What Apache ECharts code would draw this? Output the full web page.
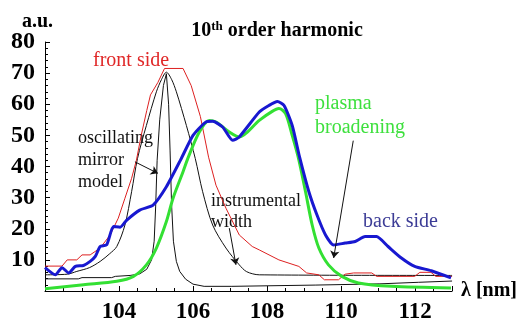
<!DOCTYPE html>
<html>
<head>
<meta charset="utf-8">
<script src="https://cdn.jsdelivr.net/npm/echarts@6/dist/echarts.min.js"></script>
<style>
html, body { margin: 0; padding: 0; background: #fff; }
#chart { width: 520px; height: 324px; }
</style>
</head>
<body>
<div id="chart"></div>
<script>
// [lambda nm, intensity a.u.]
var frontSide = [[102,8],[102.46,8],[102.6,10],[102.86,10],[103.0,11.6],[103.22,11.6],[103.49,13.8],[103.76,18],
    [103.98,23.4],[104.16,29.8],[104.34,36.2],[104.47,42],[104.6,50],[104.75,58],[104.85,63],[105.05,67],[105.23,71.5],
    [105.73,71.5],[105.95,66],[106.2,56],[106.42,43],[106.62,34],[106.89,26.6],[107.25,18],[107.6,14.3],[107.79,13.2],
    [108.32,10],[108.86,7.9],[109.07,5.8],[109.4,5.2],[109.55,3.6],[109.93,3.6],[110.11,5.4],[110.34,5.8],[110.83,5.8],
    [110.96,4.7],[111.99,4.7],[112.13,6.0],[112.43,6.0],[112.56,4.7],[113,4.7]];
var backSide = [[102,7.5],[102.28,5.2],[102.46,7.5],[102.64,5.8],[102.82,7.9],[103.04,8.2],[103.22,9.5],[103.36,11.1],
    [103.49,14.3],[103.67,14.9],[103.85,20.7],[104.03,20.5],[104.21,22.8],[104.56,26],[104.92,27.6],[105.28,33.5],
    [105.68,42.5],[106.0,50],[106.35,54.3],[106.53,54.5],[106.8,52.7],[107.07,48.4],[107.25,49.5],[107.79,57.5],
    [108.05,59.6],[108.28,60.9],[108.46,59.6],[108.68,53.2],[108.88,43],[109.13,31.9],[109.35,24.4],[109.58,18],
    [109.8,14.8],[110.11,15.4],[110.38,15.9],[110.65,17.5],[110.96,17.5],[111.27,14.3],[111.63,10.6],[111.99,7.9],
    [112.44,6.5],[112.97,4.2]];
var plasma = [[102,0.7],[103.04,2.0],[103.94,3.1],[104.39,4.7],[104.74,8.4],[105.01,13.8],[105.28,22.3],[105.46,29.8],
    [105.73,38.3],[105.86,42.6],[106.17,51.1],[106.44,54.8],[106.62,54.3],[106.98,51.1],[107.25,49.5],[107.79,54.8],
    [108.14,57.7],[108.32,58.6],[108.5,57],[108.68,50],[108.85,42.6],[109.04,31.9],[109.22,21.2],[109.4,13.8],
    [109.66,8.4],[110.02,4.7],[110.47,2.6],[111.36,1.5],[112.97,1.0]];
var mirror = [[102,5.2],[102.6,5.4],[102.86,6.3],[103.2,7.5],[103.49,9.5],[103.75,12],[103.94,14.3],[104.16,21.2],
    [104.34,31.9],[104.5,42.6],[104.74,53.2],[105.01,64],[105.15,68],[105.28,70.3],[105.42,68],[105.55,64],
    [105.82,53.2],[106.06,42.6],[106.26,31.9],[106.53,21.2],[106.89,13.8],[107.25,8.4],[107.45,6.2],[107.79,5.2],[113,5.0]];
var instrumental = [[102,3.9],[102.9,3.9],[103.0,4.3],[103.8,4.3],[103.9,4.7],[104.3,5],[104.56,5.5],[104.75,7],
    [104.88,10],[104.95,16],[104.99,27],[105.03,42],[105.1,55],[105.2,66],[105.28,69.8],[105.34,60],[105.38,45],
    [105.42,28],[105.47,16],[105.55,9.5],[105.64,6.3],[105.8,3.8],[106,2.2],[106.3,1.5],[107.05,1.5],[107.1,1.9],
    [109.3,1.9],[109.35,2.3],[111.05,2.3],[111.1,2.8],[112.1,2.8],[112.15,3.2],[113,3.2]];
// annotation arrows: [from, to]
var arrows = [
    [[104.43,41.5],[105.05,37.8]],
    [[106.98,20.2],[107.16,8.4]],
    [[110.33,48.3],[109.8,10.6]]
];

var serif = 'Liberation Serif';
var myChart = echarts.init(document.getElementById('chart'));

var option = {
    animation: false,
    title: {
        text: '{n|10}{s|th}{n| order harmonic}',
        left: 272,
        top: 15,
        textAlign: 'center',
        textStyle: {
            rich: {
                n: {fontFamily: serif, fontWeight: 'bold', fontSize: 20, color: '#000'},
                s: {fontFamily: serif, fontWeight: 'bold', fontSize: 13, color: '#000', padding: [0, 0, 8, 0]}
            }
        }
    },
    grid: {left: 45, right: 67, top: 42, bottom: 31},
    xAxis: {
        type: 'value',
        min: 102,
        max: 113,
        interval: 2,
        name: 'λ [nm]',
        nameLocation: 'end',
        nameGap: 9,
        nameTextStyle: {fontFamily: serif, fontWeight: 'bold', fontSize: 20, color: '#000'},
        axisLine: {lineStyle: {color: '#000', width: 1}},
        axisTick: {inside: true, length: 5, lineStyle: {color: '#000'}},
        minorTick: {show: true, splitNumber: 4, length: 3, lineStyle: {color: '#000'}},
        axisLabel: {
            showMinLabel: false,
            showMaxLabel: false,
            margin: 10,
            fontFamily: serif, fontWeight: 'bold', fontSize: 23, color: '#000'
        },
        splitLine: {show: false}
    },
    yAxis: {
        type: 'value',
        min: 0,
        max: 80,
        interval: 10,
        axisLine: {show: true, lineStyle: {color: '#000', width: 1}},
        axisTick: {show: true, inside: true, length: 5, lineStyle: {color: '#000'}},
        minorTick: {show: true, splitNumber: 5, length: 3, lineStyle: {color: '#000'}},
        axisLabel: {
            showMinLabel: false,
            margin: 10,
            fontFamily: serif, fontWeight: 'bold', fontSize: 24, color: '#000'
        },
        splitLine: {show: false}
    },
    graphic: [
        {type: 'text', left: 22, top: 12, style: {text: 'a.u.', fontFamily: serif, fontWeight: 'bold', fontSize: 20, fill: '#000'}},
        {type: 'text', left: 93, top: 51, style: {text: 'front side', fontFamily: serif, fontSize: 20, fill: '#e02828'}},
        {type: 'text', left: 78, top: 127, style: {text: 'oscillating\nmirror\nmodel', fontFamily: serif, fontSize: 18, lineHeight: 22, fill: '#111'}},
        {type: 'text', left: 211, top: 191, style: {text: 'instrumental\nwidth', fontFamily: serif, fontSize: 18, lineHeight: 21, fill: '#111'}},
        {type: 'text', left: 315, top: 92, style: {text: 'plasma\nbroadening', fontFamily: serif, fontSize: 20, lineHeight: 24, fill: '#3ee03e'}},
        {type: 'text', left: 363, top: 212, style: {text: 'back side', fontFamily: serif, fontSize: 20, fill: '#3c3c96'}}
    ],
    series: [
        {
            name: 'mirror model',
            type: 'line',
            smooth: 0.3,
            symbol: 'none',
            lineStyle: {color: '#111', width: 1},
            data: mirror
        },
        {
            name: 'instrumental width',
            type: 'line',
            symbol: 'none',
            lineStyle: {color: '#111', width: 1},
            data: instrumental,
            markLine: {
                silent: true,
                symbol: ['none', 'arrow'],
                symbolSize: 7,
                label: {show: false},
                lineStyle: {color: '#111', width: 1, type: 'solid'},
                data: arrows.map(function (a) {
                    return [{coord: a[0]}, {coord: a[1]}];
                })
            }
        },
        {
            name: 'front side',
            type: 'line',
            symbol: 'none',
            lineStyle: {color: '#dd2020', width: 1},
            data: frontSide
        },
        {
            name: 'plasma broadening',
            type: 'line',
            smooth: 0.3,
            symbol: 'none',
            lineStyle: {color: '#33e033', width: 3},
            data: plasma
        },
        {
            name: 'back side',
            type: 'line',
            smooth: 0.2,
            symbol: 'none',
            lineStyle: {color: '#1818d0', width: 3},
            data: backSide
        }
    ]
};
myChart.setOption(option);
</script>
</body>
</html>
